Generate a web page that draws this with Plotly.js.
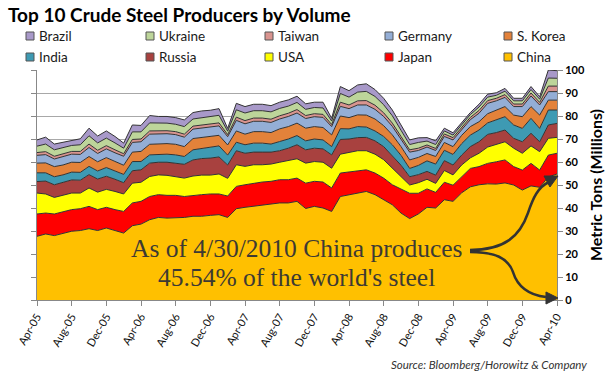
<!DOCTYPE html>
<html><head><meta charset="utf-8">
<script src="https://cdn.plot.ly/plotly-3.0.1.min.js"></script>
<style>html,body{margin:0;padding:0;background:#fff;} #chart{width:610px;height:381px;}</style>
</head><body><div id="chart"></div>
<script>
const months = ["Apr-05","May-05","Jun-05","Jul-05","Aug-05","Sep-05","Oct-05","Nov-05","Dec-05",
"Jan-06","Feb-06","Mar-06","Apr-06","May-06","Jun-06","Jul-06","Aug-06","Sep-06","Oct-06","Nov-06","Dec-06",
"Jan-07","Feb-07","Mar-07","Apr-07","May-07","Jun-07","Jul-07","Aug-07","Sep-07","Oct-07","Nov-07","Dec-07",
"Jan-08","Feb-08","Mar-08","Apr-08","May-08","Jun-08","Jul-08","Aug-08","Sep-08","Oct-08","Nov-08","Dec-08",
"Jan-09","Feb-09","Mar-09","Apr-09","May-09","Jun-09","Jul-09","Aug-09","Sep-09","Oct-09","Nov-09","Dec-09",
"Jan-10","Feb-10","Mar-10","Apr-10"];
const tickLabels = ["Apr-05","Aug-05","Dec-05","Apr-06","Aug-06","Dec-06","Apr-07","Aug-07","Dec-07","Apr-08","Aug-08","Dec-08","Apr-09","Aug-09","Dec-09","Apr-10"];

const china = [27.7,28.7,28.0,28.9,29.9,30.2,31.0,30.2,31.3,30.2,29.1, 32.3,33.0,34.9,35.9,35.6,35.6,35.9,36.4,36.4,36.8,37.1,35.9, 39.7,40.3,40.7,41.4,41.7,42.2,42.2,42.9,39.8,40.7,40.0,38.5, 45.0,45.8,46.5,47.2,45.8,43.6,41.4,37.8,35.4,37.4,40.3,40.0, 43.6,42.9,46.6,49.2,50.1,50.5,50.4,50.9,50.0,47.8,49.6,49.0,53.5,54.8];
const japan = [9.7,9.1,9.4,9.6,9.4,9.5,9.7,9.1,9.0,9.1,9.4, 9.9,9.9,10.1,9.9,9.9,9.9,9.1,9.1,9.4,9.3,9.0,9.3, 9.7,9.8,10.1,9.9,9.9,10.1,10.1,10.1,11.0,10.9,11.3,10.2, 10.2,9.8,9.7,9.4,9.4,9.4,8.7,10.5,11.0,9.0,8.0,6.8, 7.6,7.0,6.9,8.0,7.9,8.9,9.7,10.0,8.0,8.7,9.8,7.5,9.5,9.0];
const usa = [9.1,8.3,7.2,7.0,7.2,6.8,8.0,7.6,7.8,7.9,7.6, 8.6,8.3,8.7,8.6,8.7,8.2,8.0,8.4,8.5,8.2,8.7,7.7, 9.4,8.0,8.0,7.5,7.5,7.6,8.2,8.4,8.7,8.6,8.6,8.6, 8.2,8.7,8.7,8.3,8.2,8.0,7.2,5.5,3.6,4.6,4.2,3.9, 5.1,4.5,5.2,4.6,5.8,7.1,7.7,7.9,8.0,7.3,7.6,8.0,7.3,6.9];
const russia = [5.0,5.6,5.5,5.6,5.7,5.6,5.8,5.7,5.7,5.3,4.9, 5.4,5.4,5.8,5.5,5.7,5.8,6.0,7.0,7.2,7.4,7.4,5.8, 6.1,5.7,5.5,5.5,5.2,5.0,5.5,6.1,5.8,5.8,5.8,5.8, 6.4,5.7,5.7,5.8,5.8,5.7,5.5,4.8,3.6,3.5,3.4,3.6, 4.3,4.3,4.3,4.9,5.0,5.5,5.0,5.1,4.3,5.0,5.5,4.3,5.8,6.1];
const india = [3.8,3.6,3.5,3.3,3.4,3.4,3.6,3.5,3.8,3.6,3.6, 4.0,3.6,3.6,3.5,3.5,3.6,3.4,4.4,4.4,4.6,4.8,4.3, 3.7,3.7,3.9,3.9,3.5,4.0,4.0,4.0,3.9,4.0,3.9,3.6, 4.7,4.4,4.8,4.5,4.3,4.4,4.7,4.3,3.6,4.0,4.6,4.8, 4.5,4.6,5.0,5.0,5.1,5.0,5.5,5.8,5.8,5.8,6.5,5.8,6.5,5.8];
const korea = [4.2,4.3,4.4,4.3,4.3,4.3,4.3,4.0,4.3,4.3,4.0, 4.1,4.4,4.6,4.6,4.6,4.6,4.3,4.9,4.7,4.7,4.6,4.4, 4.9,4.6,5.0,5.0,5.0,5.5,5.4,5.4,5.5,5.4,5.4,5.1, 5.5,4.9,5.1,5.2,5.2,4.7,4.3,3.8,3.7,3.5,3.2,3.3, 3.4,3.4,3.6,3.7,3.6,4.0,4.3,4.4,4.3,5.1,5.1,5.8,4.3,4.3];
const germany = [3.4,3.6,3.3,3.6,3.5,3.5,3.9,3.6,3.8,3.6,3.9, 4.2,4.2,4.4,4.3,4.3,4.2,4.1,4.1,4.2,4.2,4.1,3.6, 4.6,4.5,4.5,4.5,4.4,4.3,4.4,4.4,4.2,4.3,4.4,3.6, 4.2,3.9,4.3,4.4,4.2,4.0,3.7,3.2,3.4,3.0,2.8,2.6, 2.6,2.9,2.6,3.0,3.7,4.5,4.0,4.0,3.7,4.4,4.6,4.4,3.7,3.7];
const taiwan = [1.2,1.3,1.2,1.2,1.2,1.3,1.5,1.4,1.4,1.3,1.1, 1.3,1.2,1.4,1.3,1.3,1.3,1.3,1.3,1.3,1.3,1.3,0.9, 1.4,1.4,1.4,1.4,1.4,1.4,1.4,1.5,1.3,1.3,1.3,0.9, 1.8,1.6,1.8,1.9,1.8,1.6,1.4,1.2,1.0,1.0,0.9,0.9, 1.1,1.0,1.0,1.0,1.2,1.2,1.1,1.2,1.1,1.1,1.3,1.1,2.4,2.4];
const ukraine = [2.8,3.3,2.8,2.7,2.6,2.9,3.6,3.2,3.3,3.0,2.4, 3.3,3.1,3.5,3.3,3.3,3.2,3.3,3.1,3.2,3.2,3.3,1.5, 3.2,3.3,3.2,3.2,3.2,3.2,3.1,3.1,2.7,2.7,2.8,1.5, 3.8,3.4,3.8,4.0,3.8,3.5,3.2,2.7,2.3,2.5,1.7,1.7, 1.3,1.1,1.1,1.2,1.5,1.5,1.3,1.5,1.4,1.4,1.5,1.4,3.5,3.4];
const brazil = [2.7,3.0,2.5,2.4,2.4,2.6,3.3,3.0,3.1,2.8,2.2, 3.0,2.8,3.2,2.9,2.9,2.9,2.9,2.8,2.9,2.8,2.9,1.2, 2.8,2.8,2.8,2.8,2.7,2.7,2.7,2.7,2.4,2.3,2.5,1.2, 3.0,2.8,3.1,3.3,3.0,2.8,2.5,2.3,2.0,2.0,1.5,1.6, 1.2,1.0,0.9,0.9,1.2,1.3,1.1,1.2,1.1,1.1,1.3,1.1,3.5,3.3];

const seriesNames = ["China","Japan","USA","Russia","India","S. Korea","Germany","Taiwan","Ukraine","Brazil"];
const seriesValues = [china, japan, usa, russia, india, korea, germany, taiwan, ukraine, brazil];
const seriesColors = ["#FFC000","#FF0000","#FFFF00","#A8413F","#3E9AB3","#E3823A","#94AED6","#D9948F","#BDD59A","#A899C9"];
const legendRows = [["Brazil","Ukraine","Taiwan","Germany","S. Korea"],["India","Russia","USA","Japan","China"]];

const W = 610, H = 381, ML = 37, MR = 53, MT = 70, MB = 81;
const PW = W - ML - MR, PH = H - MT - MB;
const xp = px => (px - ML) / PW;
const yp = py => (H - MB - py) / PH;
const pt = (a, b) => xp(a).toFixed(4) + "," + yp(b).toFixed(4);

const traces = seriesNames.map((name, i) => ({
  type: "scatter", mode: "lines", name: name,
  x: months, y: seriesValues[i],
  stackgroup: "one",
  fillcolor: seriesColors[i],
  line: {color: "#333333", width: 1},
  hoverinfo: "skip", showlegend: false
}));

const shapes = [];
const annotations = [];
const legendX = [26, 146, 265, 385, 504];
const legendY = [36, 57];
legendRows.forEach((row, r) => {
  row.forEach((name, c) => {
    const col = seriesColors[seriesNames.indexOf(name)];
    const sx = legendX[c], cy = legendY[r];
    shapes.push({type: "rect", xref: "paper", yref: "paper",
      x0: xp(sx), x1: xp(sx + 8), y0: yp(cy + 4), y1: yp(cy - 4),
      fillcolor: col, line: {color: "#555555", width: 1}});
    annotations.push({xref: "paper", yref: "paper", x: xp(sx + 11), y: yp(cy),
      xanchor: "left", yanchor: "middle", showarrow: false, text: name,
      font: {family: "Lato", size: 13.5, color: "#1a1a1a"}});
  });
});

// curved arrows
shapes.push({type: "path", xref: "paper", yref: "paper",
  path: "M " + pt(470,250) + " C " + pt(505,250) + " " + pt(520,236) + " " + pt(528,213) + " C " + pt(533,198) + " " + pt(538,187) + " " + pt(549,182),
  line: {color: "#333333", width: 2.5}, fillcolor: "rgba(0,0,0,0)"});
shapes.push({type: "path", xref: "paper", yref: "paper",
  path: "M " + pt(558,176) + " L " + pt(550,187) + " L " + pt(544,176) + " Z",
  line: {color: "#333333", width: 1}, fillcolor: "#333333"});
shapes.push({type: "path", xref: "paper", yref: "paper",
  path: "M " + pt(470,252) + " C " + pt(495,252) + " " + pt(508,258) + " " + pt(513,272) + " C " + pt(518,288) + " " + pt(530,295) + " " + pt(546,297),
  line: {color: "#333333", width: 2.5}, fillcolor: "rgba(0,0,0,0)"});
shapes.push({type: "path", xref: "paper", yref: "paper",
  path: "M " + pt(558,298) + " L " + pt(546,292) + " L " + pt(546,304) + " Z",
  line: {color: "#333333", width: 1}, fillcolor: "#333333"});

const noteLines = ["As of 4/30/2010 China produces", "45.54% of the world's steel"];
const noteY = [248, 277];
noteLines.forEach((t, i) => {
  annotations.push({xref: "paper", yref: "paper", x: xp(296), y: yp(noteY[i]),
    xanchor: "center", yanchor: "middle", showarrow: false, text: t,
    font: {family: "Liberation Serif", size: 25.5, color: "#3d3a33"}});
});

annotations.push({xref: "paper", yref: "paper", x: xp(589), y: yp(364),
  xanchor: "right", yanchor: "middle", showarrow: false,
  text: "Source: Bloomberg/Horowitz & Company",
  font: {family: "Lato", size: 11.5, style: "italic", color: "#333333"}});

const layout = {
  width: W, height: H,
  margin: {l: ML, r: MR, t: MT, b: MB, pad: 0},
  paper_bgcolor: "#ffffff", plot_bgcolor: "#ffffff",
  font: {family: "Lato", color: "#222222"},
  showlegend: false,
  title: {text: "Top 10 Crude Steel Producers by Volume",
    font: {family: "Lato", size: 19, weight: "bold", color: "#000000"},
    xref: "container", yref: "container", x: 8 / W, xanchor: "left", y: 1 - 15 / H, yanchor: "middle"},
  xaxis: {type: "category", range: [0, months.length - 1],
    tickmode: "array", tickvals: tickLabels, ticktext: tickLabels,
    tickangle: -60, ticks: "outside", ticklen: 5, tickcolor: "#888888",
    showline: true, linecolor: "#888888", linewidth: 1, showgrid: false,
    tickfont: {family: "Lato", size: 11, color: "#111111"}},
  yaxis: {side: "right", range: [0, 100], dtick: 10, tick0: 0,
    showgrid: true, gridcolor: "#A8A8A8", gridwidth: 1, zeroline: false,
    showline: true, linecolor: "#888888", linewidth: 1, mirror: "ticks",
    ticks: "outside", ticklen: 5, tickcolor: "#888888",
    tickfont: {family: "Lato", size: 11, weight: "bold", color: "#000000"},
    title: {text: "Metric Tons (Millions)", standoff: 6,
      font: {family: "Lato", size: 16, weight: "bold", color: "#000000"}}},
  shapes: shapes,
  annotations: annotations
};

Plotly.newPlot("chart", traces, layout, {displayModeBar: false, staticPlot: true});
</script>
</body></html>
